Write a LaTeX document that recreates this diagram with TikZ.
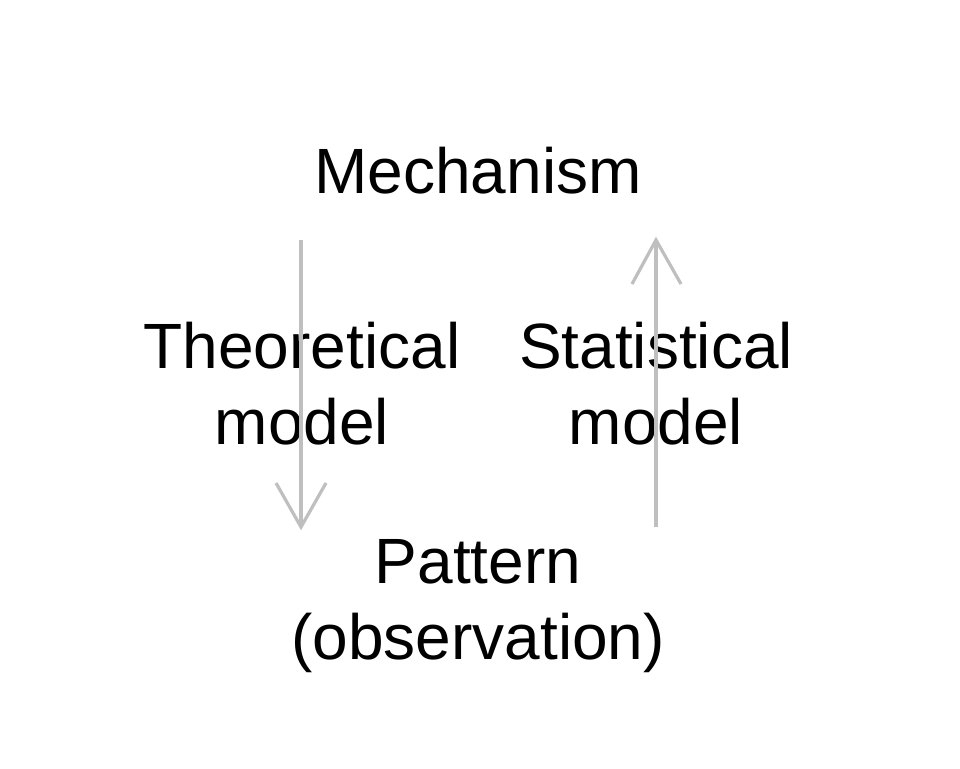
\documentclass[tikz,border=0pt]{standalone}
\usepackage{fontspec}
\setmainfont{Liberation Sans}
\usetikzlibrary{calc}
\begin{document}
\begin{tikzpicture}[x=0.75pt,y=-0.75pt,
  lbl/.style={inner sep=0pt,anchor=base,font=\fontsize{48}{58}\selectfont},
  arr/.style={draw=black!25,line width=2.4pt,line cap=butt}]
\useasboundingbox[fill=white] (0,0) rectangle (960,768);
\node[lbl] (mech) at (478,193) {Mechanism};
\node[lbl] (theo) at (302,368) {Theoretical};
\node[lbl] (theo2) at (302,444) {model};
\node[lbl] (stat) at (656,368) {Statistical};
\node[lbl] (stat2) at (656,444) {model};
\node[lbl] (patt) at (478,583) {Pattern};
\node[lbl] (patt2) at (478,659) {(observation)};
\coordinate (a1) at (301,240);
\coordinate (a2) at (301,527);
\coordinate (b1) at (656,527);
\coordinate (b2) at (656,240);
\draw[arr] (a1) -- ($(a2)+(0,-2)$);
\draw[arr,line join=miter] ($(a2)+(-25,-44)$) -- (a2) -- ($(a2)+(25,-44)$);
\draw[arr] (b1) -- ($(b2)+(0,2)$);
\draw[arr,line join=miter] ($(b2)+(-24,44)$) -- (b2) -- ($(b2)+(25,44)$);
\end{tikzpicture}
\end{document}
